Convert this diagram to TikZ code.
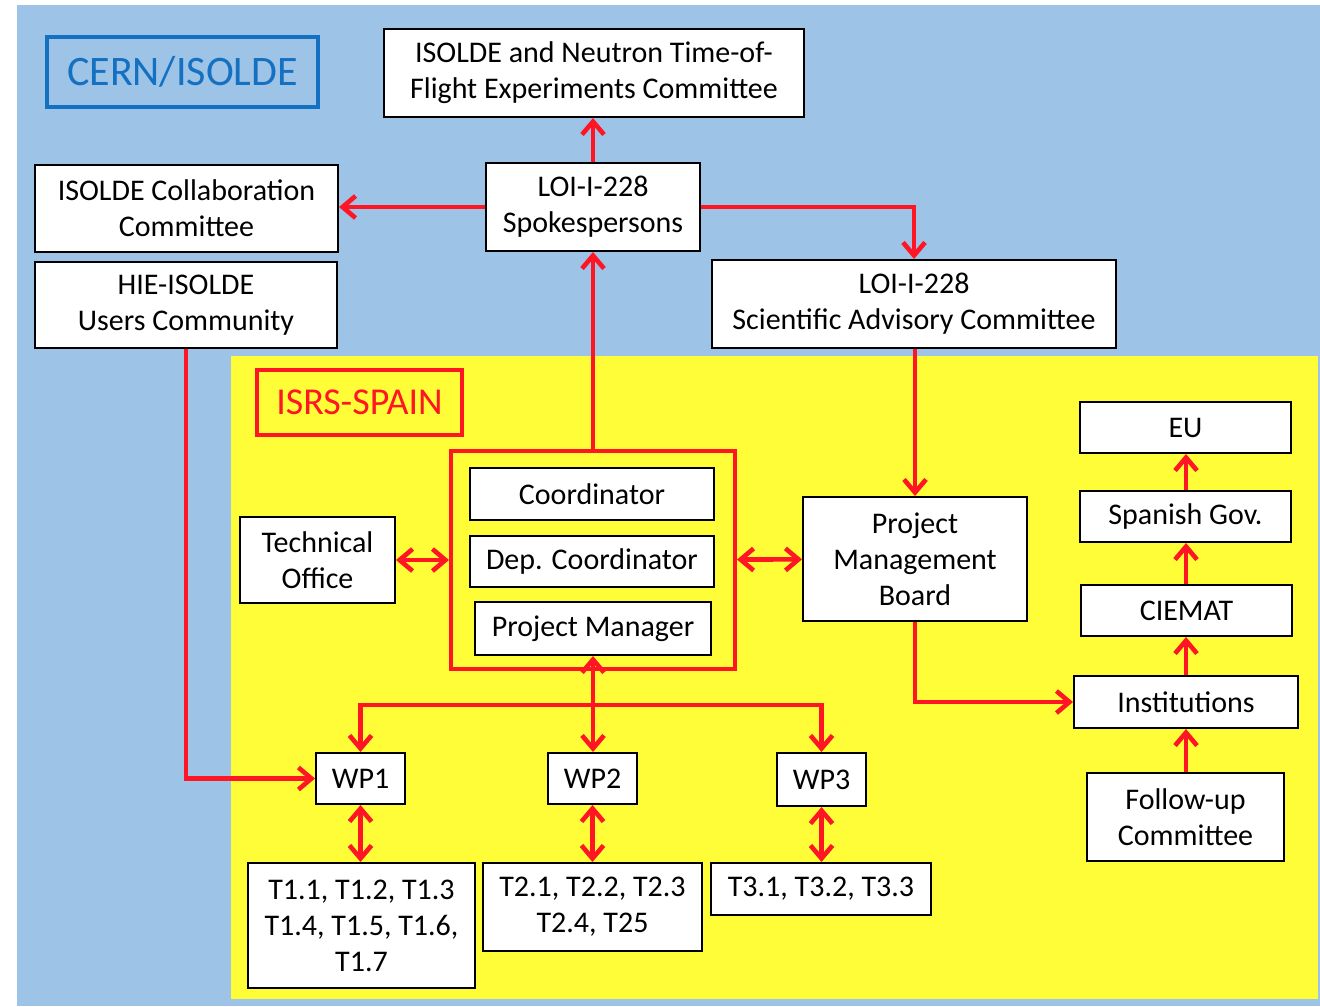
\documentclass[tikz,border=0pt]{standalone}
\usepackage{fontspec}
\setmainfont{Carlito}
\usepackage{xcolor}
\usetikzlibrary{arrows.meta}
\usetikzlibrary{calc}
\usetikzlibrary{positioning}

\definecolor{cernblue}{RGB}{157,195,230}
\definecolor{cerntext}{RGB}{20,112,192}
\definecolor{spainyellow}{RGB}{255,252,56}
\definecolor{linkred}{RGB}{255,22,36}

\begin{document}
\begin{tikzpicture}[x=0.5pt,y=-0.5pt,>={Straight Barb[length=6.5pt,width=11pt]}]
	\tikzstyle{box}=[draw=black, line width=1pt, fill=white, inner sep=0pt, align=center, font=\fontsize{15}{18}\selectfont]
	\tikzstyle{link}=[draw=linkred, line width=2.3pt]
	\useasboundingbox (0,0) rectangle (1320,1006);
	% backgrounds
	\fill[cernblue] (17,5) rectangle (1320,1006);
	\fill[spainyellow] (231,356) rectangle (1318,999);
	% titles
	\node[draw=cerntext, line width=2pt, text=cerntext, inner sep=0pt, minimum width=135.5pt, minimum height=35pt, font=\fontsize{21}{24}\selectfont] (cern) at (182.5,72) {CERN/ISOLDE};
	\node[draw=linkred, line width=2pt, text=linkred, inner sep=0pt, minimum width=102.5pt, minimum height=32.5pt, font=\fontsize{19}{22}\selectfont] (isrs) at (359.5,402.5) {ISRS-SPAIN};
	% CERN side
	\node[box, minimum width=210pt, minimum height=44pt] (ntof) at (594,73) {ISOLDE and Neutron Time-of-\\Flight Experiments Committee};
	\node[box, minimum width=151.5pt, minimum height=43.5pt] (collab) at (186.5,208.5) {ISOLDE Collaboration\\Committee};
	\node[box, minimum width=107pt, minimum height=44pt] (spokes) at (593,207) {LOI-I-228\\Spokespersons};
	\node[box, minimum width=151pt, minimum height=43pt] (hie) at (186,305) {HIE-ISOLDE\\Users Community};
	\node[box, minimum width=202pt, minimum height=44pt] (sac) at (914,304) {LOI-I-228\\Scientific Advisory Committee};
	% management
	\node[draw=linkred, line width=2pt, minimum width=142pt, minimum height=109pt] (cont) at (593,560) {};
	\node[box, minimum width=122pt, minimum height=26pt] (coord) at (592,494) {Coordinator};
	\node[box, minimum width=122pt, minimum height=25.5pt] (dep) at (592,561.5) {Dep. Coordinator};
	\node[box, minimum width=118pt, minimum height=26.5pt] (pm) at (593,628.5) {Project Manager};
	\node[box, minimum width=77.5pt, minimum height=43pt] (tech) at (317.5,560) {Technical\\Office};
	\node[box, minimum width=112pt, minimum height=62pt] (pmb) at (915,559) {Project\\Management\\Board};
	% funding chain
	\node[box, minimum width=105.5pt, minimum height=25.5pt] (eu) at (1185.5,427.5) {EU};
	\node[box, minimum width=105.5pt, minimum height=25.5pt] (gov) at (1185.5,516.5) {Spanish Gov.};
	\node[box, minimum width=105.5pt, minimum height=25.5pt] (ciemat) at (1186.5,610.5) {CIEMAT};
	\node[box, minimum width=112pt, minimum height=26pt] (inst) at (1186,702) {Institutions};
	\node[box, minimum width=98.5pt, minimum height=44pt] (follow) at (1185.5,817) {Follow-up\\Committee};
	% work packages
	\node[box, minimum width=44.5pt, minimum height=25.5pt] (wp1) at (360.5,778.5) {WP1};
	\node[box, minimum width=44.5pt, minimum height=25.5pt] (wp2) at (592.5,778.5) {WP2};
	\node[box, minimum width=44.5pt, minimum height=26.5pt] (wp3) at (821.5,779.5) {WP3};
	\node[box, minimum width=113.5pt, minimum height=62.5pt] (t1) at (361.5,925.5) {T1.1, T1.2, T1.3\\T1.4, T1.5, T1.6,\\T1.7};
	\node[box, minimum width=109.5pt, minimum height=44pt] (t2) at (592.5,907) {T2.1, T2.2, T2.3\\T2.4, T25};
	\node[box, minimum width=110pt, minimum height=26pt] (t3) at (821,889) {T3.1, T3.2, T3.3};
	\coordinate (bus) at (593,705);
	% connectors
	\path[link]
		(spokes.north) edge[->] (spokes.north |- ntof.south)
		(spokes.west) edge[->] (spokes.west -| collab.east)
		(cont) edge[->] (spokes)
		(pmb.north |- sac.south) edge[->] (pmb.north)
		(tech) edge[<->] (cont)
		(cont) edge[<->] (pmb)
		(pm.south) edge[<->] (pm.south |- wp2.north)
		(wp1) edge[<->] (wp1 |- t1.north)
		(wp2) edge[<->] (wp2 |- t2.north)
		(wp3) edge[<->] (wp3 |- t3.north)
		(inst.south |- follow.north) edge[->] (inst.south)
		(inst.north) edge[->] (inst.north |- ciemat.south)
		(inst.north |- ciemat.north) edge[->] (inst.north |- gov.south)
		(inst.north |- gov.north) edge[->] (inst.north |- eu.south);
	\draw[link,->] (spokes.east) -| (sac.north);
	\draw[link,->] (hie.south) |- (wp1.west);
	\draw[link,->] (pmb.south) |- (inst.west);
	\draw[link,->] (bus) -| (wp1.north);
	\draw[link,->] (bus) -| (wp3.north);
\end{tikzpicture}
\end{document}
